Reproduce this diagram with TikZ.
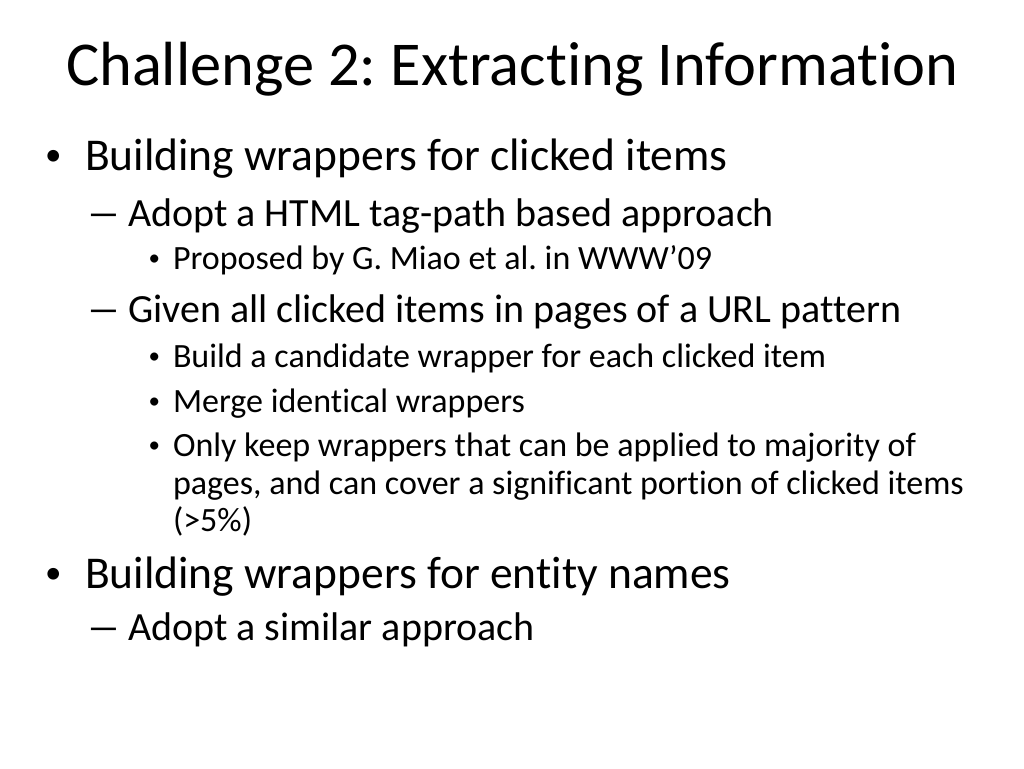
\documentclass[tikz,border=0pt]{standalone}
\usepackage{fontspec}
\usepackage{graphicx}
\setmainfont{Carlito}[Ligatures=NoCommon]
\begin{document}
\frenchspacing
\begin{tikzpicture}[x=1pt,y=-1pt,
  every node/.style={inner sep=0pt,outer sep=0pt,anchor=base west},
  ttl/.style={font=\fontsize{62.4}{74}\selectfont},
  lone/.style={font=\fontsize{45.5}{54}\selectfont},
  ltwo/.style={font=\fontsize{40}{47}\selectfont},
  lthree/.style={font=\fontsize{34}{37.5}\selectfont},
  bone/.style={font=\fontsize{33}{40}\selectfont},
  bthree/.style={font=\fontsize{23}{28}\selectfont},
  dtwo/.style={font=\fontsize{40}{47}\selectfont}]
\newcommand{\mydash}{\scalebox{1.75}[1]{–}}
\useasboundingbox[fill=white] (0,0) rectangle (1024,768);
\node[ttl] (title) at (66,85) {Challenge 2: Extracting Information};
% level 1
\node[bone] (b1) at (45,165.5) {•};
\node[lone] (t1) at (85,170) {Building wrappers for clicked items};
\node[dtwo] (d11) at (86,226) {\mydash};
\node[ltwo] (t11) at (128,226) {Adopt a HTML tag-path based approach};
\node[bthree] (b111) at (148.5,265.7) {•};
\node[lthree] (t111) at (173,269) {Proposed by G. Miao et al. in WWW’09};
\node[dtwo] (d12) at (86,322) {\mydash};
\node[ltwo] (t12) at (128,322) {Given all clicked items in pages of a URL pattern};
\node[bthree] (b121) at (148.5,363.7) {•};
\node[lthree] (t121) at (173,367) {Build a candidate wrapper for each clicked item};
\node[bthree] (b122) at (148.5,408.7) {•};
\node[lthree] (t122) at (173,412) {Merge identical wrappers};
\node[bthree] (b123) at (148.5,452.7) {•};
\node[lthree] (t123a) at (173,456) {Only keep wrappers that can be applied to majority of};
\node[lthree] (t123b) at (173,494) {pages, and can cover a significant portion of clicked items};
\node[lthree] (t123c) at (173,531) {(>5\%)};
\node[bone] (b2) at (45,583.5) {•};
\node[lone] (t2) at (85,588) {Building wrappers for entity names};
\node[dtwo] (d21) at (86,640) {\mydash};
\node[ltwo] (t21) at (128,640) {Adopt a similar approach};
\end{tikzpicture}
\end{document}
